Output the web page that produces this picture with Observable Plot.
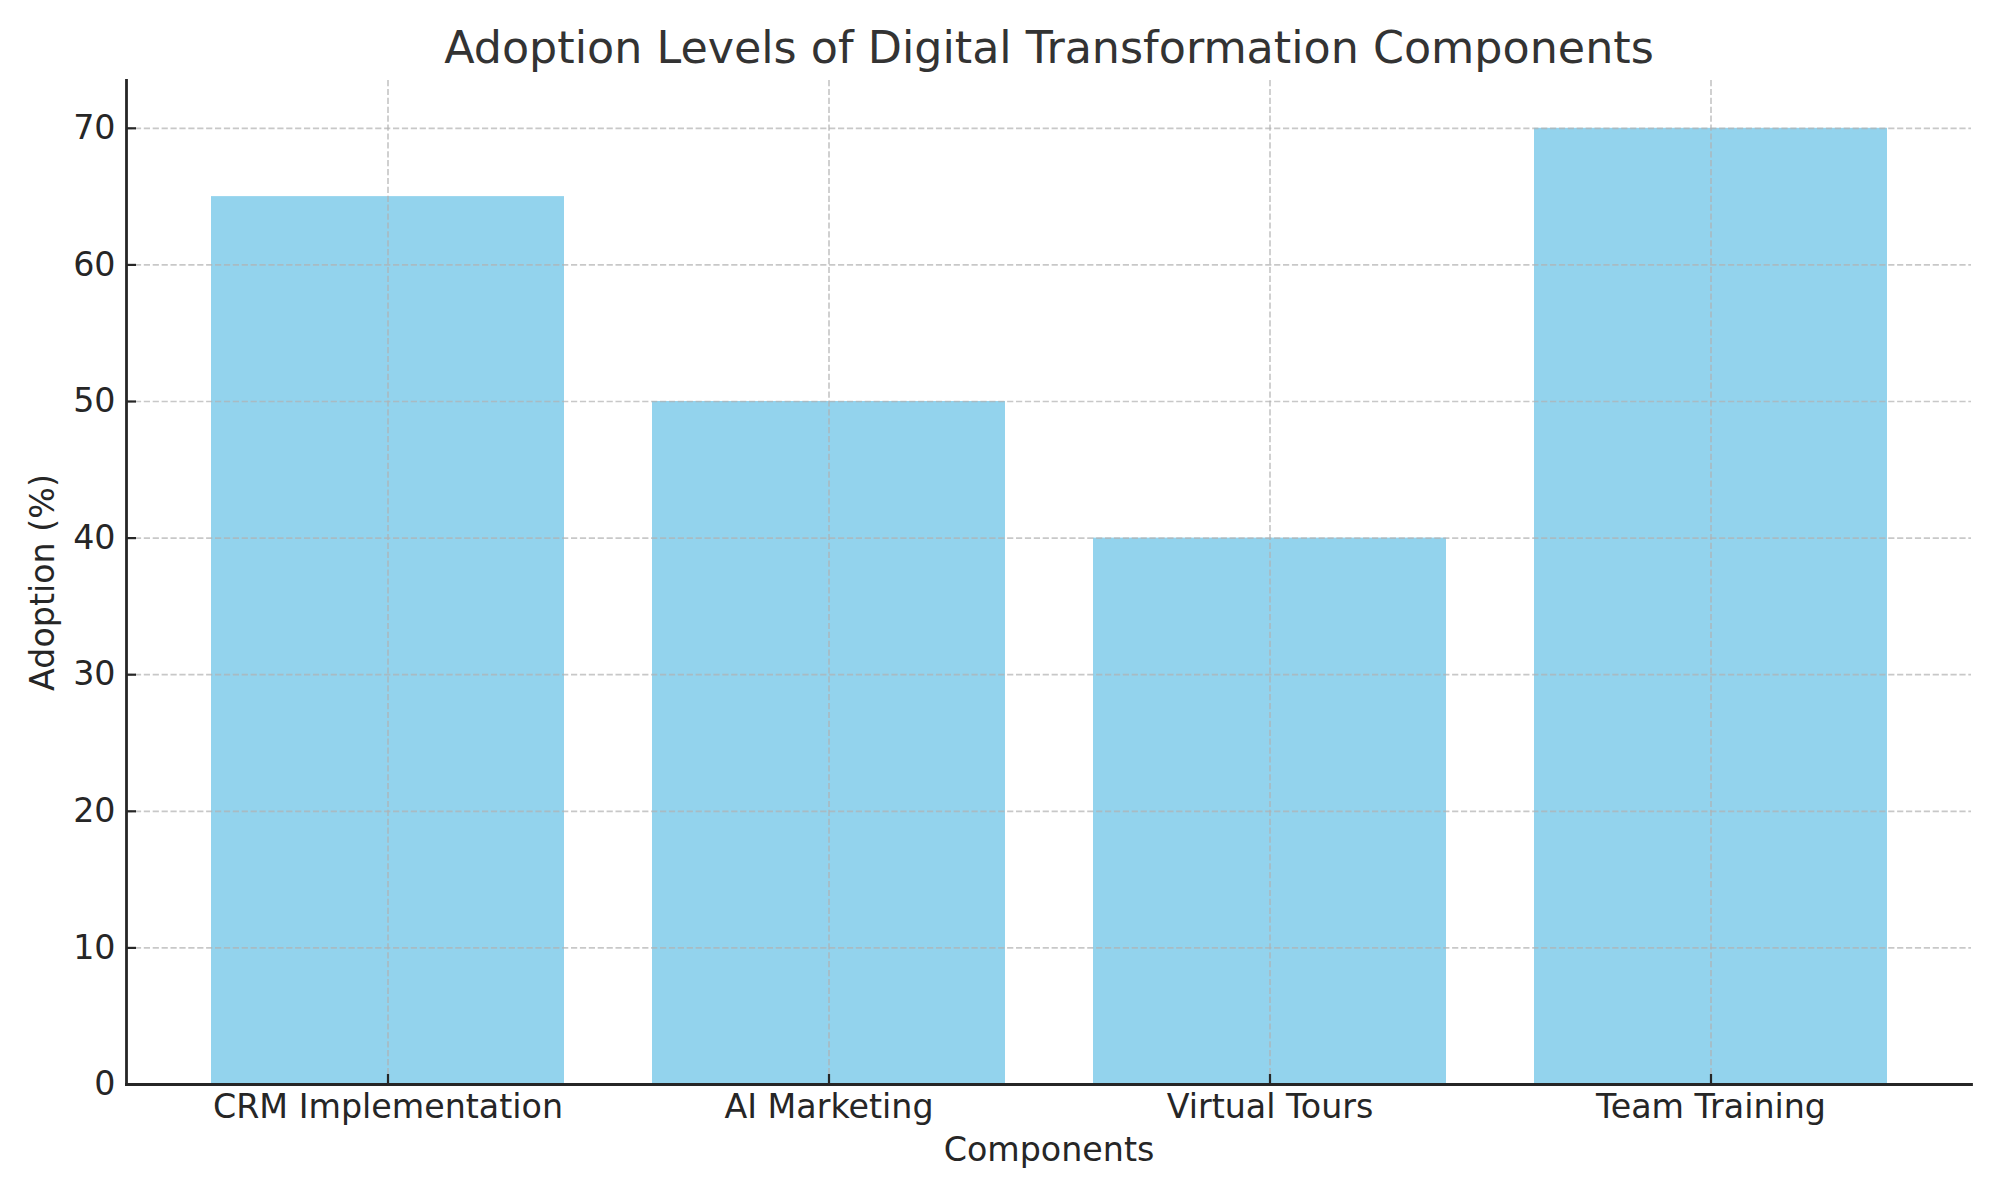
<!DOCTYPE html>
<html>
<head>
<meta charset="utf-8">
<script src="https://cdn.jsdelivr.net/npm/d3@7"></script>
<script src="https://cdn.jsdelivr.net/npm/@observablehq/plot@0.6"></script>
<style>
  html, body { margin: 0; padding: 0; background: #fff; }
  #chart svg { display: block; }
</style>
</head>
<body>
<div id="chart"></div>
<script>
const categories = ["CRM Implementation", "AI Marketing", "Virtual Tours", "Team Training"];
const adoption = [65, 50, 40, 70];
const yTicks = [0, 10, 20, 30, 40, 50, 60, 70];
const title = "Adoption Levels of Digital Transformation Components";
const xLabel = "Components";
const yLabel = "Adoption (%)";

const data = categories.map((c, i) => ({category: c, value: adoption[i]}));
const font = "DejaVu Sans, sans-serif";
const ink = "#262626";

const chart = Plot.plot({
  width: 2000,
  height: 1200,
  marginLeft: 126,
  marginRight: 29,
  marginTop: 80,
  marginBottom: 116,
  style: {fontFamily: font, background: "#fff", color: ink},
  x: {type: "band", domain: categories, paddingInner: 0.2, paddingOuter: 0.19, label: null},
  y: {domain: [0, 73.5], label: null},
  marks: [
    Plot.barY(data, {x: "category", y: "value", fill: "#87CEEB", fillOpacity: 0.9}),
    Plot.gridY(yTicks, {stroke: "#b0b0b0", strokeOpacity: 0.7, strokeWidth: 1.7, strokeDasharray: "6.2,2.7"}),
    Plot.gridX(categories, {stroke: "#b0b0b0", strokeOpacity: 0.7, strokeWidth: 1.7, strokeDasharray: "6.2,2.7"}),
    // inward ticks
    Plot.axisY(yTicks, {tickSize: 10, dx: 10, text: null, stroke: ink, strokeWidth: 2.2, strokeOpacity: 1}),
    Plot.axisX(categories, {tickSize: 10, dy: -10, text: null, stroke: ink, strokeWidth: 2.2, strokeOpacity: 1}),
    // tick labels
    Plot.axisY(yTicks, {tickSize: 0, tickPadding: 11, fontSize: 33.3, fill: ink, label: null}),
    Plot.axisX(categories, {tickSize: 0, tickPadding: 10, fontSize: 33.3, fill: ink, label: null}),
    // spines
    Plot.frame({anchor: "left", stroke: ink, strokeWidth: 2.8}),
    Plot.frame({anchor: "bottom", stroke: ink, strokeWidth: 2.8}),
    // titles
    Plot.text([title], {frameAnchor: "top", dy: -31.5, fontSize: 44.4, fill: "#333333", lineAnchor: "middle", textAnchor: "middle"}),
    Plot.text([xLabel], {frameAnchor: "bottom", dy: 66, fontSize: 33.3, fill: ink, lineAnchor: "middle", textAnchor: "middle"}),
    Plot.text([yLabel], {frameAnchor: "left", dx: -83, rotate: -90, fontSize: 33.3, fill: ink, lineAnchor: "middle", textAnchor: "middle"})
  ]
});
document.getElementById("chart").appendChild(chart);
</script>
</body>
</html>
